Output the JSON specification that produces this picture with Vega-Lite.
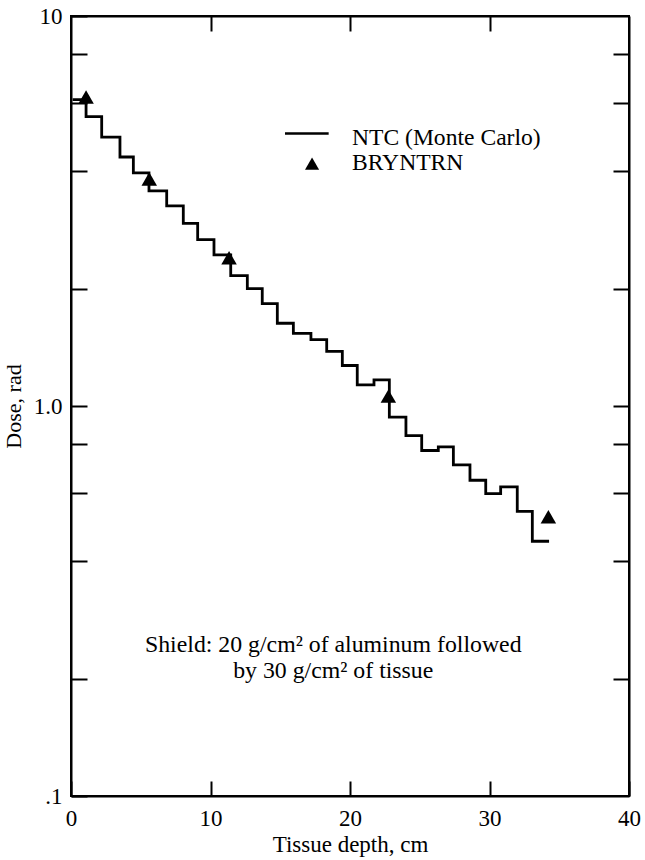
{
  "$schema": "https://vega.github.io/schema/vega-lite/v6.json",
  "width": 558,
  "height": 780,
  "autosize": "none",
  "padding": {"left": 71, "top": 16, "right": 16, "bottom": 64},
  "background": "white",
  "config": {
    "view": {"stroke": "black", "strokeWidth": 2},
    "font": "Liberation Serif",
    "axis": {"grid": false, "domainColor": "black", "domainWidth": 2, "tickColor": "black", "tickWidth": 2, "labelColor": "black", "titleColor": "black", "labelFont": "Liberation Serif", "titleFont": "Liberation Serif", "titleFontWeight": "normal"}
  },
  "datasets": {
    "steps": [
      {"d": 0.12, "dose": 6.1},
      {"d": 1.08, "dose": 5.52},
      {"d": 2.2, "dose": 4.89},
      {"d": 3.51, "dose": 4.35},
      {"d": 4.47, "dose": 3.96},
      {"d": 5.59, "dose": 3.56},
      {"d": 6.86, "dose": 3.26},
      {"d": 8.05, "dose": 2.94},
      {"d": 9.08, "dose": 2.67},
      {"d": 10.25, "dose": 2.44},
      {"d": 11.45, "dose": 2.16},
      {"d": 12.64, "dose": 2.0},
      {"d": 13.71, "dose": 1.83},
      {"d": 14.79, "dose": 1.63},
      {"d": 15.94, "dose": 1.535},
      {"d": 17.2, "dose": 1.48},
      {"d": 18.33, "dose": 1.38},
      {"d": 19.45, "dose": 1.27},
      {"d": 20.52, "dose": 1.133},
      {"d": 21.72, "dose": 1.167},
      {"d": 22.82, "dose": 0.936},
      {"d": 24.01, "dose": 0.84},
      {"d": 25.14, "dose": 0.769},
      {"d": 26.33, "dose": 0.786},
      {"d": 27.41, "dose": 0.706},
      {"d": 28.6, "dose": 0.645},
      {"d": 29.73, "dose": 0.596},
      {"d": 30.8, "dose": 0.62},
      {"d": 31.99, "dose": 0.537},
      {"d": 33.07, "dose": 0.45},
      {"d": 34.27, "dose": 0.45}
    ],
    "bryntrn": [
      {"d": 1.08, "dose": 6.2},
      {"d": 5.61, "dose": 3.82},
      {"d": 11.33, "dose": 2.4},
      {"d": 22.75, "dose": 1.06},
      {"d": 34.22, "dose": 0.52}
    ],
    "legendLine": [{"x1": 15.34, "x2": 18.47, "dose": 5.0}],
    "legendPoint": [{"d": 17.28, "dose": 4.18}],
    "legendText": [
      {"d": 20.14, "dose": 4.68, "label": "NTC (Monte Carlo)"},
      {"d": 20.14, "dose": 4.02, "label": "BRYNTRN"}
    ],
    "notes": [
      {"d": 18.8, "dose": 0.234, "label": "Shield: 20 g/cm² of aluminum followed"},
      {"d": 18.8, "dose": 0.201, "label": "by 30 g/cm² of tissue"}
    ]
  },
  "resolve": {"axis": {"x": "independent", "y": "independent"}},
  "layer": [
    {
      "data": {"name": "steps"},
      "mark": {"type": "line", "interpolate": "step-after", "color": "black", "strokeWidth": 2.8},
      "encoding": {
        "x": {"field": "d", "type": "quantitative", "scale": {"domain": [0, 40], "nice": false, "zero": false},
          "axis": {"title": "Tissue depth, cm", "values": [0, 10, 20, 30, 40], "tickSize": -15, "labelPadding": 26, "titlePadding": 3, "labelFlush": false, "labelFontSize": 23, "titleFontSize": 23}},
        "y": {"field": "dose", "type": "quantitative", "scale": {"type": "log", "domain": [0.1, 10], "nice": false},
          "axis": {"title": "Dose, rad", "values": [0.1, 0.2, 0.4, 0.6, 0.8, 1, 2, 4, 6, 8, 10], "tickSize": -16, "labelPadding": 25, "titlePadding": 8, "labelFontSize": 23, "titleFontSize": 22,
            "labelExpr": "datum.value == 10 ? '10' : datum.value == 1 ? '1.0' : datum.value == 0.1 ? '.1' : ''", "labelFlush": false}}
      }
    },
    {
      "data": {"name": "bryntrn"},
      "mark": {"type": "point", "shape": "triangle-up", "filled": true, "color": "black", "size": 240, "opacity": 1},
      "encoding": {
        "x": {"field": "d", "type": "quantitative", "axis": {"orient": "top", "title": null, "labels": false, "values": [10, 20, 30], "tickSize": -15}},
        "y": {"field": "dose", "type": "quantitative", "axis": {"orient": "right", "title": null, "labels": false, "values": [0.2, 0.4, 0.6, 0.8, 1, 2, 4, 6, 8], "tickSize": -16}}
      }
    },
    {
      "data": {"name": "legendLine"},
      "mark": {"type": "rule", "color": "black", "strokeWidth": 2.5},
      "encoding": {
        "x": {"field": "x1", "type": "quantitative", "axis": null},
        "x2": {"field": "x2"},
        "y": {"field": "dose", "type": "quantitative", "axis": null}
      }
    },
    {
      "data": {"name": "legendPoint"},
      "mark": {"type": "point", "shape": "triangle-up", "filled": true, "color": "black", "size": 200, "opacity": 1},
      "encoding": {
        "x": {"field": "d", "type": "quantitative", "axis": null},
        "y": {"field": "dose", "type": "quantitative", "axis": null}
      }
    },
    {
      "data": {"name": "legendText"},
      "mark": {"type": "text", "align": "left", "baseline": "alphabetic", "fontSize": 23.6, "font": "Liberation Serif", "color": "black"},
      "encoding": {
        "x": {"field": "d", "type": "quantitative", "axis": null},
        "y": {"field": "dose", "type": "quantitative", "axis": null},
        "text": {"field": "label"}
      }
    },
    {
      "data": {"name": "notes"},
      "mark": {"type": "text", "align": "center", "baseline": "alphabetic", "fontSize": 23.8, "font": "Liberation Serif", "color": "black"},
      "encoding": {
        "x": {"field": "d", "type": "quantitative", "axis": null},
        "y": {"field": "dose", "type": "quantitative", "axis": null},
        "text": {"field": "label"}
      }
    }
  ]
}
